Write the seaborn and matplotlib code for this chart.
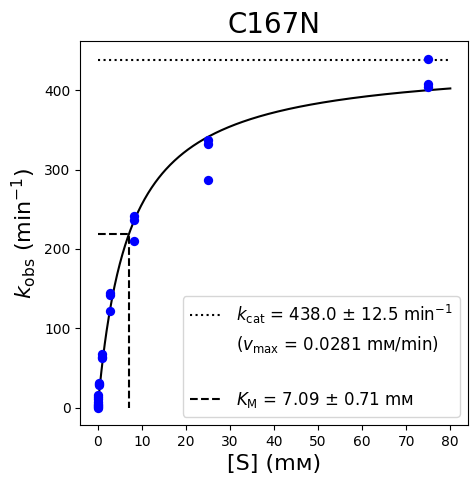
import numpy as np
import pandas as pd
import seaborn as sns
import matplotlib.pyplot as plt

# substrate concentrations (mM), 3-fold dilution series, triplicates
conc = [75, 75, 75,
        25, 25, 25,
        8.333, 8.333, 8.333,
        2.778, 2.778, 2.778,
        0.926, 0.926, 0.926,
        0.309, 0.309, 0.309,
        0.103, 0.103, 0.103,
        0.0343, 0.0343, 0.0343,
        0.0114, 0.0114, 0.0114]
kobs = [440, 408, 404,
        337, 332, 287,
        241, 236, 210,
        144, 142, 122,
        67, 64, 62,
        31, 30, 29,
        16, 13, 11,
        7, 5, 3,
        1.5, 0.8, 0]

kcat = 438.0
kcat_err = 12.5
km = 7.09
km_err = 0.71
vmax = 0.0281
x_max = 80

df = pd.DataFrame({'S': conc, 'kobs': kobs})

fig = plt.figure(figsize=(4.77, 4.84), dpi=100)
ax = fig.add_axes([0.168, 0.122, 0.813, 0.793])

xfit = np.linspace(0, x_max, 400)
yfit = kcat * xfit / (km + xfit)
ax.plot(xfit, yfit, color='black', lw=1.5)

sns.scatterplot(data=df, x='S', y='kobs', color='blue', s=45, linewidth=0, ax=ax, zorder=3)

ax.plot([0, x_max], [kcat, kcat], color='black', ls=':', lw=1.5,
        label=r'$k_\mathrm{cat}$ = %.1f ± %.1f min$^{-1}$' % (kcat, kcat_err))
ax.plot([], [], ' ', label=r'($v_\mathrm{max}$ = %.4f mᴍ/min)' % vmax)
ax.plot([], [], ' ', label=' ')
ax.plot([0, km, km], [kcat / 2, kcat / 2, 0], color='black', ls='--', lw=1.5,
        label=r'$K_\mathrm{M}$ = %.2f ± %.2f mᴍ' % (km, km_err))

ax.set_xticks(range(0, 81, 10))
ax.set_yticks(range(0, 401, 100))
ax.set_title('C167N', fontsize=20)
ax.set_xlabel('[S] (mᴍ)', fontsize=16)
ax.set_ylabel(r'$k_\mathrm{obs}$ (min$^{-1}$)', fontsize=16)
ax.legend(loc='lower right', fontsize=12)

fig.savefig('out.png', dpi=100)
